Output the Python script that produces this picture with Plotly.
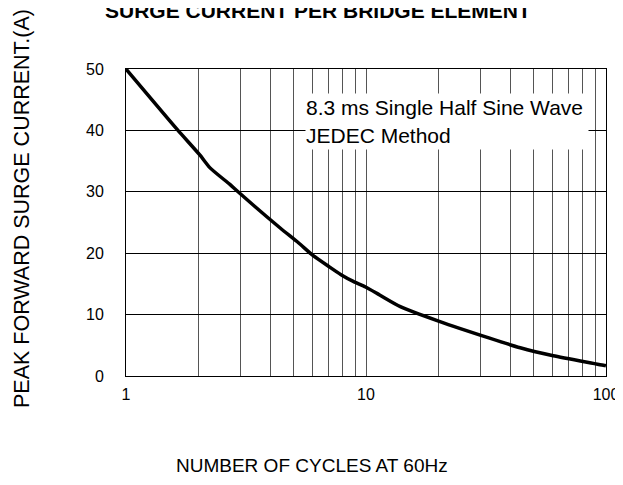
import plotly.graph_objects as go

# Data
cycles = [1, 1.63, 2.03, 2.24, 2.71, 2.93, 4.39, 5.23, 6.03, 7.02, 7.87, 8.85,
          9.96, 11.4, 13.9, 20.2, 32.5, 43.9, 60.3, 99, 100]
current = [50, 40.2, 36.0, 33.9, 31.2, 30.0, 24.1, 21.7, 19.6, 17.8, 16.5, 15.4,
           14.5, 13.2, 11.3, 8.9, 6.2, 4.6, 3.3, 1.7, 1.65]

x_tick_vals = [1, 10, 100]
x_tick_text = ["1", "10", "100"]
x_minor_vals = [2, 3, 4, 5, 6, 7, 8, 9, 20, 30, 40, 50, 60, 70, 80, 90]
y_tick_vals = [0, 10, 20, 30, 40, 50]

title_text = "SURGE CURRENT PER BRIDGE ELEMENT"
x_title = "NUMBER OF CYCLES AT 60Hz"
y_title = "PEAK FORWARD SURGE CURRENT.(A)"
note_text = "8.3 ms Single Half Sine Wave<br>JEDEC Method"

FONT = "Liberation Sans, Arial, sans-serif"

fig = go.Figure()
fig.add_trace(go.Scatter(
    x=cycles, y=current, mode="lines",
    line=dict(color="black", width=3.5, shape="spline", smoothing=0.6),
    hoverinfo="skip", showlegend=False,
))

# the page body keeps its default 8px margin; size the figure to fit exactly
OFF = 8
W, H = 607, 469
L, R, T, B = 118, 9, 61, 101
pw, ph = W - L - R, H - T - B


def px(page_x):
    return (page_x - OFF - L) / pw


def py(page_y):
    return (H - B - (page_y - OFF)) / ph


fig.update_layout(
    width=W, height=H,
    margin=dict(l=L, r=R, t=T, b=B, autoexpand=False),
    paper_bgcolor="white", plot_bgcolor="white",
    font=dict(family=FONT, color="black", size=16),
    showlegend=False,
    xaxis=dict(
        type="log", range=[0, 2], automargin=False,
        tickvals=x_tick_vals, ticktext=x_tick_text,
        ticks="", ticklabelstandoff=4, ticklabeloverflow="allow",
        showgrid=True, gridcolor="#555555", gridwidth=1,
        minor=dict(tickvals=x_minor_vals, showgrid=True, gridcolor="#555555",
                   gridwidth=1, ticks=""),
        showline=True, linecolor="black", linewidth=1, mirror=True,
        zeroline=False,
        tickfont=dict(size=16),
    ),
    yaxis=dict(
        range=[0, 50], tickvals=y_tick_vals, automargin=False,
        ticks="", ticklabelstandoff=18,
        showgrid=True, gridcolor="black", gridwidth=1,
        showline=True, linecolor="black", linewidth=1, mirror=True,
        zeroline=False,
        tickfont=dict(size=16),
    ),
    annotations=[
        dict(text="<b>" + title_text + "</b>", xref="paper", yref="paper",
             x=px(318), y=py(24), xanchor="center", yanchor="bottom",
             showarrow=False, font=dict(size=21, family=FONT)),
        dict(text=x_title, xref="paper", yref="paper",
             x=px(312), y=py(465), xanchor="center", yanchor="middle",
             showarrow=False, font=dict(size=19, family=FONT)),
        dict(text=y_title, xref="paper", yref="paper",
             x=px(22), y=py(209), xanchor="center", yanchor="middle",
             textangle=-90, showarrow=False, font=dict(size=21.5, family=FONT)),
        dict(text=note_text, xref="paper", yref="paper",
             x=px(305), y=py(93), xanchor="left", yanchor="top",
             align="left", valign="middle", width=282, height=55,
             bgcolor="white", borderpad=0, showarrow=False,
             font=dict(size=21, family=FONT)),
    ],
)

fig.write_html("out.html", config={"displayModeBar": False})
